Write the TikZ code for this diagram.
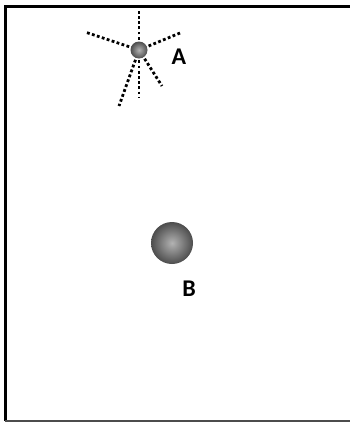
\documentclass[tikz,border=0pt]{standalone}
\usepackage{fontspec}
\setmainfont{Carlito}
\begin{document}
\begin{tikzpicture}[x=1pt,y=-1pt,
  ray/.style={line width=2.8pt, dash pattern=on 2.8pt off 2.4pt, black},
  lbl/.style={font=\fontsize{24}{24}\selectfont\bfseries, inner sep=0pt},
  sphere/.style={circle, inner sep=0pt, shading=radial,
    inner color=gray!60, outer color=black!70}]
  \useasboundingbox (0,0) rectangle (350,423);
  \fill[white] (0,0) rectangle (350,423);
  % frame: heavy top and left edges, lighter bottom edge
  \draw[black, line width=3pt] (5.5,421) -- (5.5,6.5) -- (350,6.5);
  \draw[black!70, line width=2pt] (5,420.5) -- (350,420.5);
  % ray ends around source A
  \coordinate (u)  at (139,9);
  \coordinate (ul) at (85,32);
  \coordinate (ur) at (180,33);
  \coordinate (d)  at (139,98);
  \coordinate (dl) at (119,106);
  \coordinate (dr) at (162,86);
  \coordinate (a0) at (139,50);
  \foreach \e in {u,ul,ur,d,dl,dr} \draw[ray] (a0) -- (\e);
  \node[sphere, minimum size=17pt] (A) at (a0) {};
  \node[lbl] (la) at (179,57) {A};
  \node[sphere, minimum size=42pt] (B) at (172,243) {};
  \node[lbl] (lb) at (189,289) {B};
\end{tikzpicture}
\end{document}
